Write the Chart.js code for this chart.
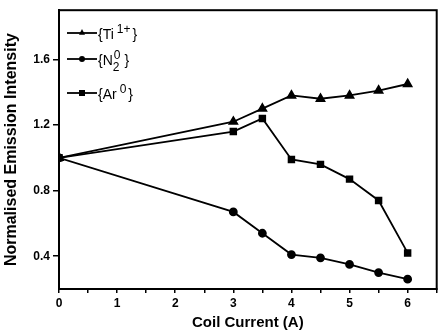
<!DOCTYPE html>
<html>
<head>
<meta charset="utf-8">
<script src="https://cdn.jsdelivr.net/npm/chart.js@4"></script>
<style>
  html, body { margin: 0; padding: 0; background: #fff; }
  #wrap { width: 443px; height: 334px; }
</style>
</head>
<body>
<div id="wrap"><canvas id="grafica"></canvas></div>
<script>
// corriente de la bobina (A)
const corriente = [0, 3, 3.5, 4, 4.5, 5, 5.5, 6];
// intensidades normalizadas
const ti = [1.0, 1.22, 1.30, 1.38, 1.36, 1.38, 1.41, 1.45];
const n2 = [1.0, 0.67, 0.54, 0.41, 0.39, 0.35, 0.30, 0.26];
const ar = [1.0, 1.16, 1.24, 0.99, 0.96, 0.87, 0.74, 0.42];
const ticksX = [0, 0.5, 1, 1.5, 2, 2.5, 3, 3.5, 4, 4.5, 5, 5.5, 6, 6.5];
const ticksY = [0.4, 0.8, 1.2, 1.6];
// etiquetas de la leyenda: texto base, superindice, subindice
const etiquetas = [
  { base: '{Ti', sup: '1+', sub: '', end: '}' },
  { base: '{N', sup: '0', sub: '2', end: '}' },
  { base: '{Ar', sup: '0', sub: '', end: '}' }
];

const familia = '"Liberation Sans", Arial, sans-serif';

function serie(data, marcador, radio) {
  return {
    data: corriente.map((x, i) => ({ x: x, y: data[i] })),
    borderColor: '#000',
    backgroundColor: '#000',
    borderWidth: 1.8,
    pointStyle: marcador,
    pointRadius: radio,
    pointHoverRadius: radio,
    tension: 0
  };
}

// marco completo y leyenda con superindices
const marcoYLeyenda = {
  id: 'marcoYLeyenda',
  afterDraw(chart) {
    const ctx = chart.ctx;
    const a = chart.chartArea;
    ctx.save();
    ctx.strokeStyle = '#000';
    ctx.lineWidth = 2;
    ctx.strokeRect(a.left, a.top, a.right - a.left, a.bottom - a.top);

    const filas = [33, 59, 93];
    chart.data.datasets.forEach((ds, i) => {
      const y = filas[i];
      const x0 = a.left + 8, x1 = a.left + 38;
      ctx.strokeStyle = '#000';
      ctx.lineWidth = 1.8;
      ctx.beginPath(); ctx.moveTo(x0, y); ctx.lineTo(x1, y); ctx.stroke();
      ctx.fillStyle = '#000';
      const r = 3;
      const cx = (x0 + x1) / 2;
      ctx.beginPath();
      if (ds.pointStyle === 'triangle') {
        ctx.moveTo(cx, y - r * 1.3); ctx.lineTo(cx + r, y + r * 0.6); ctx.lineTo(cx - r, y + r * 0.6);
      } else if (ds.pointStyle === 'rect') {
        ctx.rect(cx - r, y - r, r * 2, r * 2);
      } else {
        ctx.arc(cx, y, r, 0, Math.PI * 2);
      }
      ctx.fill();

      const e = etiquetas[i];
      let x = x1 + 1;
      ctx.textBaseline = 'alphabetic';
      ctx.font = '14px ' + familia;
      ctx.fillText(e.base, x, y + 6);
      x += ctx.measureText(e.base).width;
      const xs = x;
      ctx.font = '12px ' + familia;
      if (e.sub) {
        ctx.fillText(e.sub, x, y + 12);
      }
      const wSub = e.sub ? ctx.measureText(e.sub).width : 0;
      ctx.fillText(e.sup, xs + (e.sub ? 1 : 3), y);
      x = xs + Math.max(wSub, ctx.measureText(e.sup).width + 3) + 2;
      ctx.font = '14px ' + familia;
      ctx.fillText(e.end, x, y + 6);
    });
    ctx.restore();
  }
};

const ctx = document.getElementById('grafica').getContext('2d');
const chart = new Chart(ctx, {
  type: 'line',
  data: {
    datasets: [
      serie(ti, 'triangle', 4.5),
      serie(n2, 'circle', 3.5),
      serie(ar, 'rect', 4)
    ]
  },
  options: {
    responsive: true,
    maintainAspectRatio: false,
    animation: false,
    layout: { padding: { top: 8, right: 5, left: 0, bottom: 0 } },
    plugins: {
      legend: { display: false },
      tooltip: { enabled: false }
    },
    scales: {
      x: {
        type: 'linear',
        min: 0,
        max: 6.5,
        afterBuildTicks: s => { s.ticks = ticksX.map(v => ({ value: v })); },
        afterFit: s => { s.height = 45; },
        ticks: {
          color: '#000',
          font: { family: familia, size: 12, weight: 'bold' },
          padding: 3,
          maxRotation: 0,
          autoSkip: false,
          callback: v => (Number.isInteger(v) && v <= 6) ? String(v) : ''
        },
        grid: { drawOnChartArea: false, drawTicks: true, tickLength: 4, color: '#000', lineWidth: 1.5 },
        border: { display: true, color: '#000', width: 2 },
        title: {
          display: true,
          text: 'Coil Current (A)',
          color: '#000',
          font: { family: familia, size: 15, weight: 'bold' },
          padding: { top: 0, bottom: 2 }
        }
      },
      y: {
        min: 0.2,
        max: 1.9,
        afterBuildTicks: s => { s.ticks = ticksY.map(v => ({ value: v })); },
        afterFit: s => { s.width = 59; },
        ticks: {
          color: '#000',
          font: { family: familia, size: 12, weight: 'bold' },
          padding: 3,
          callback: v => v.toFixed(1)
        },
        grid: { drawOnChartArea: false, drawTicks: true, tickLength: 6, color: '#000', lineWidth: 1.5 },
        border: { display: true, color: '#000', width: 2 },
        title: {
          display: true,
          text: 'Normalised Emission Intensity',
          color: '#000',
          font: { family: familia, size: 16, weight: 'bold' },
          padding: { top: 2, bottom: 0 }
        }
      }
    }
  },
  plugins: [marcoYLeyenda]
});
</script>
</body>
</html>
